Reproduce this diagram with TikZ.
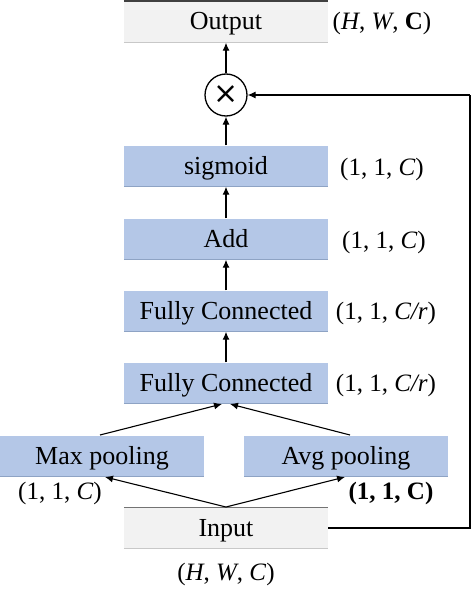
\documentclass[tikz,border=0pt]{standalone}
\usepackage{fontspec}
\setmainfont{Liberation Serif}
\newfontfamily\symfont{DejaVu Sans}
\usetikzlibrary{arrows.meta}
\definecolor{boxblue}{HTML}{B4C7E7}
\definecolor{boxgray}{HTML}{F2F2F2}
\definecolor{edgeblue}{HTML}{8EA3C4}
\definecolor{edgegray}{HTML}{C8C8C8}
\begin{document}
\begin{tikzpicture}[x=1pt,y=-1pt,
  txt/.style={font=\fontsize{25}{30}\selectfont},
  boxbase/.style={font=\fontsize{26}{30}\selectfont,minimum width=204pt,minimum height=41pt,inner sep=0pt,text height=20pt,text depth=4pt},
  bluebox/.style={boxbase,fill=boxblue},
  graybox/.style={boxbase,fill=boxgray},
  lab/.style={txt,inner sep=0pt,text height=20pt,text depth=4pt},
  arr/.style={line width=1.1pt,-{Latex[length=8pt,width=7pt]}},
  edgeb/.style={line width=1pt,edgeblue},
  edgeg/.style={line width=1pt,edgegray}]
\useasboundingbox (0,0) rectangle (474,594);
\node[graybox] (out) at (226,22) {Output};
\node[lab] (outl) at (382,22) {(\textit{H}, \textit{W}, \textbf{C})};
\node[circle,draw,line width=1.3pt,minimum size=42pt,inner sep=0pt,font=\symfont\fontsize{30}{30}\selectfont] (mul) at (226,95) {×};
\node[bluebox] (sig) at (226,166) {sigmoid};
\node[lab] (sigl) at (382,167) {(1, 1, \textit{C})};
\node[bluebox] (add) at (226,239) {Add};
\node[lab] (addl) at (384,240) {(1, 1, \textit{C})};
\node[bluebox] (fc1) at (226,311) {Fully Connected};
\node[lab] (fc1l) at (386,311) {(1, 1, \textit{C/r})};
\node[bluebox] (fc2) at (226,383) {Fully Connected};
\node[lab] (fc2l) at (386,383) {(1, 1, \textit{C/r})};
\node[bluebox] (maxp) at (102,456) {Max pooling};
\node[lab] (maxl) at (60,491) {(1, 1, \textit{C})};
\node[bluebox] (avgp) at (346,456) {Avg pooling};
\node[lab] (avgl) at (391,491) {\textbf{(1, 1, C)}};
\node[graybox] (in) at (226,528) {Input};
\node[lab] (inl) at (226,572) {(\textit{H}, \textit{W}, \textit{C})};
% box edges
\draw[line width=1.6pt,black!75] (out.north west) -- (out.north east);
\draw[edgeg] (out.south west) -- (out.south east);
\draw[line width=1.2pt,black!55] (in.north west) -- (in.north east);
\draw[edgeg] (in.south west) -- (in.south east);
\foreach \b in {sig,add,fc1,fc2,maxp,avgp}{\draw[edgeb] (\b.south west) -- (\b.south east);}
% connectors
\coordinate (inTop) at (226,507);
\coordinate (maxB) at (105,477);
\coordinate (avgB) at (345,477);
\coordinate (maxT) at (100,435);
\coordinate (avgT) at (350,435);
\coordinate (fcL) at (222,404);
\coordinate (fcR) at (230,404);
\coordinate (c1) at (470,528);
\coordinate (c2) at (470,95);
\draw[arr] (inTop) -- (maxB);
\draw[arr] (inTop) -- (avgB);
\draw[arr] (maxT) -- (fcL);
\draw[arr] (avgT) -- (fcR);
\draw[arr] (fc2.north) -- (fc1.south);
\draw[arr] (fc1.north) -- (add.south);
\draw[arr] (add.north) -- (sig.south);
\draw[arr] (sig.north) -- (mul.south);
\draw[arr] (mul.north) -- (out.south);
\draw[line width=1.8pt] (in.east) -- (c1) -- (c2);
\draw[arr] (c2) -- (mul.east);
\end{tikzpicture}
\end{document}
